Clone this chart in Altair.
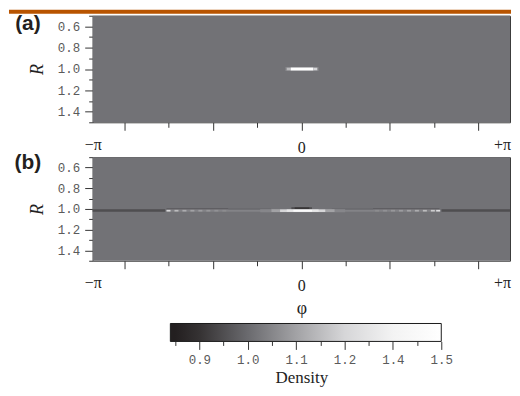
import math
import altair as alt
import pandas as pd

PI = math.pi

# ---- colour scale: density -> grey ----
dens_stops = [0.85, 0.9, 1.0, 1.1, 1.2, 1.4, 1.5]
grey_stops = ['#231f20', '#353233', '#6a6a6e', '#a2a2a5', '#d6d6d8', '#f3f3f3', '#ffffff']
bar_stop_pos = [0, 1, 3, 5, 7, 9, 11]          # where each stop sits on the bar
bar_ticks = [0, 1, 2, 3, 4, 5, 6, 7, 8, 9, 10, 11]
bar_label_pos = [1, 3, 5, 7, 9, 11]
bar_labels = ['0.9', '1.0', '1.1', '1.2', '1.4', '1.5']
bar_left, bar_right = -0.2, 11.0

# ---- axes ----
x_ticks = [-PI, -8 / 3, -2.0, -4 / 3, -2 / 3, 0.0, 2 / 3, 4 / 3, 2.0, 8 / 3, PI]
r_ticks = [0.5, 0.6, 0.7, 0.8, 0.9, 1.0, 1.1, 1.2, 1.3, 1.4, 1.5]

# ---- panel (a): background + bright spot at R=1, phi=0 ----
a_phi0 = [-PI, -0.24, -0.22, -0.16, 0.18]
a_phi1 = [PI, 0.26, -0.16, 0.18, 0.24]
a_r0 = [0.5, 0.982, 0.988, 0.986, 0.988]
a_r1 = [1.5, 1.018, 1.012, 1.014, 1.012]
a_dens = [1.015, 1.05, 1.15, 1.5, 1.2]

# ---- panel (b): background + ring features ----
b_phi0 = [-PI, -PI, 2.11, -2.03, 1.08, -2.03, 0.40, -1.10, 0.46,
          -2.03, -1.91, -1.79, -1.67, -1.55, -1.43, -1.31, -1.19,
          1.11, 1.23, 1.35, 1.47, 1.59, 1.71, 1.83, 1.95, 2.03,
          -0.62, -0.45, -0.32, -0.22, -0.12,
          -0.15, -0.10]
b_phi1 = [PI, -2.05, PI, -1.10, 2.08, -0.40, 2.09, -0.46, 1.08,
          -1.97, -1.85, -1.73, -1.61, -1.49, -1.37, -1.25, -1.13,
          1.17, 1.29, 1.41, 1.53, 1.65, 1.77, 1.89, 2.01, 2.09,
          0.66, 0.50, 0.36, 0.26, 0.16,
          0.16, 0.12]
b_r0 = [0.5, 1.004, 1.004, 0.994, 0.994, 1.006, 1.006, 0.996, 0.996,
        1.009, 1.009, 1.009, 1.009, 1.009, 1.009, 1.009, 1.009,
        1.009, 1.009, 1.009, 1.009, 1.009, 1.009, 1.009, 1.009, 1.009,
        1.002, 1.004, 1.005, 1.006, 1.008,
        0.983, 0.985]
b_r1 = [1.5, 1.028, 1.028, 1.006, 1.006, 1.028, 1.028, 1.006, 1.006,
        1.025, 1.025, 1.025, 1.025, 1.025, 1.025, 1.025, 1.025,
        1.025, 1.025, 1.025, 1.025, 1.025, 1.025, 1.025, 1.025, 1.025,
        1.032, 1.030, 1.029, 1.028, 1.026,
        1.001, 0.999]
b_dens = [1.015, 0.95, 0.95, 0.97, 0.97, 1.045, 1.045, 0.99, 0.99,
          1.22, 1.15, 1.12, 1.1, 1.09, 1.08, 1.07, 1.06,
          1.06, 1.07, 1.08, 1.09, 1.1, 1.12, 1.15, 1.18, 1.25,
          1.05, 1.1, 1.2, 1.32, 1.46,
          0.95, 0.9]

W = 419  # panel width (page has only 504 px of room)


def frame(p0, p1, r0, r1, d):
    return pd.DataFrame({'phi0': p0, 'phi1': p1, 'r0': r0, 'r1': r1, 'density': d})


color_scale = alt.Scale(domain=dens_stops, range=grey_stops, interpolate='rgb')

tick_major_x = "abs(round(datum.value * 1.5)) % 2 == 0"
x_label_expr = ("abs(datum.value) < 0.01 ? '0' : datum.value < -3 ? '\u2212\u03c0' : "
                "datum.value > 3 ? '+\u03c0' : ''")
r_major = "round(datum.value * 10) % 2 == 0 && datum.value > 0.55 && datum.value < 1.45"


def x_axis(title):
    kw = dict(values=x_ticks, labelExpr=x_label_expr, domain=False, grid=False,
              tickColor='#333333', tickWidth=1,
              tickSize={"condition": {"test": tick_major_x, "value": 8}, "value": 5},
              tickOpacity={"condition": {"test": "abs(datum.value) > 3", "value": 0}, "value": 1},
              labelOffset={"condition": {"test": "datum.value > 3", "value": -8}, "value": 0},
              labelFont='Liberation Serif', labelFontSize=16, labelColor='#222222',
              labelPadding=9, labelOverlap=False, labelBound=False, labelFlush=False)
    if title:
        kw.update(title=title, titleFont='Liberation Serif', titleFontSize=18,
                  titleFontWeight='normal', titleColor='#222222', titlePadding=6)
    else:
        kw.update(title=None)
    return alt.Axis(**kw)


y_axis = alt.Axis(values=r_ticks, labelExpr=f"({r_major}) ? format(datum.value, '.1f') : ''",
                  domain=False, grid=False, tickColor='#333333', tickWidth=1,
                  tickSize={"condition": {"test": r_major, "value": 8}, "value": 4},
                  labelFont='Liberation Mono', labelFontSize=12.5, labelColor='#5a5a5a',
                  labelPadding=5, labelOverlap=False, labelFlush=False,
                  title='R', titleFont='Liberation Serif', titleFontStyle='italic',
                  titleFontWeight='normal', titleFontSize=18, titleColor='#222222',
                  titlePadding=11)


def heat(df, xtitle):
    return alt.Chart(df).mark_rect(strokeWidth=0).encode(
        x=alt.X('phi0:Q', scale=alt.Scale(domain=[-PI, PI], nice=False, zero=False),
                axis=x_axis(xtitle)),
        x2='phi1:Q',
        y=alt.Y('r0:Q', scale=alt.Scale(domain=[0.5, 1.5], nice=False, zero=False, reverse=True),
                axis=y_axis),
        y2='r1:Q',
        color=alt.Color('density:Q', scale=color_scale, legend=None),
    )


lab_a = alt.Chart(pd.DataFrame({'t': ['(a)']})).mark_text(
    font='Liberation Sans', fontWeight='bold', fontSize=21, color='#231f20',
    align='center', baseline='middle').encode(x=alt.value(-65), y=alt.value(8), text='t:N')
lab_b = alt.Chart(pd.DataFrame({'t': ['(b)']})).mark_text(
    font='Liberation Sans', fontWeight='bold', fontSize=21, color='#231f20',
    align='center', baseline='middle').encode(x=alt.value(-65), y=alt.value(6), text='t:N')
banner = alt.Chart(pd.DataFrame({'t': ['banner']})).mark_rect(color='#b85400').encode(
    x=alt.value(-84), x2=alt.value(W + 1), y=alt.value(-6), y2=alt.value(-2))

panel_a = alt.layer(heat(frame(a_phi0, a_phi1, a_r0, a_r1, a_dens), None), banner, lab_a
                    ).properties(width=W, height=107)
panel_b = alt.layer(heat(frame(b_phi0, b_phi1, b_r0, b_r1, b_dens), '\u03c6'), lab_b
                    ).properties(width=W, height=104)

# ---- colour bar ----
span = bar_right - bar_left
px_per_k = 272 / span
dom_lo = bar_left - 78 / px_per_k
dom_hi = dom_lo + W / px_per_k
grad = alt.LinearGradient(
    gradient='linear', x1=0, x2=1, y1=0, y2=0,
    stops=[alt.GradientStop(offset=0, color=grey_stops[0])] +
          [alt.GradientStop(offset=(p - bar_left) / span, color=c)
           for p, c in zip(bar_stop_pos, grey_stops)])
lab_expr = ' : '.join(f"datum.value == {p} ? '{t}'" for p, t in zip(bar_label_pos, bar_labels)) + " : ''"
bar_major = "datum.value % 2 == 1"
cbar = alt.Chart(pd.DataFrame({'k0': [bar_left], 'k1': [bar_right]})).mark_rect(
    color=grad, stroke='#1a1a1a', strokeWidth=1).encode(
    x=alt.X('k0:Q', scale=alt.Scale(domain=[dom_lo, dom_hi], nice=False, zero=False),
            axis=alt.Axis(values=bar_ticks, labelExpr=lab_expr, domain=False, grid=False,
                          tickColor='#333333', tickWidth=1,
                          tickSize={"condition": {"test": bar_major, "value": 8}, "value": 4},
                          labelFont='Liberation Mono', labelFontSize=12.5, labelColor='#5a5a5a',
                          labelPadding=4, labelOverlap=False, labelFlush=False,
                          title='Density', titleFont='Liberation Serif', titleFontSize=17,
                          titleFontWeight='normal', titleColor='#222222', titlePadding=4)),
    x2='k1:Q',
    y=alt.value(28), y2=alt.value(46),
).properties(width=W, height=46, view=alt.ViewBackground(strokeOpacity=0))

chart = alt.vconcat(panel_a, panel_b, cbar, spacing=35, bounds='flush').properties(
    padding={"left": 0, "top": 0, "right": 0, "bottom": 0}
).configure_view(stroke='#3a3a3a', strokeWidth=1)

chart.save("out.html", embed_options={"renderer": "svg", "actions": False})
